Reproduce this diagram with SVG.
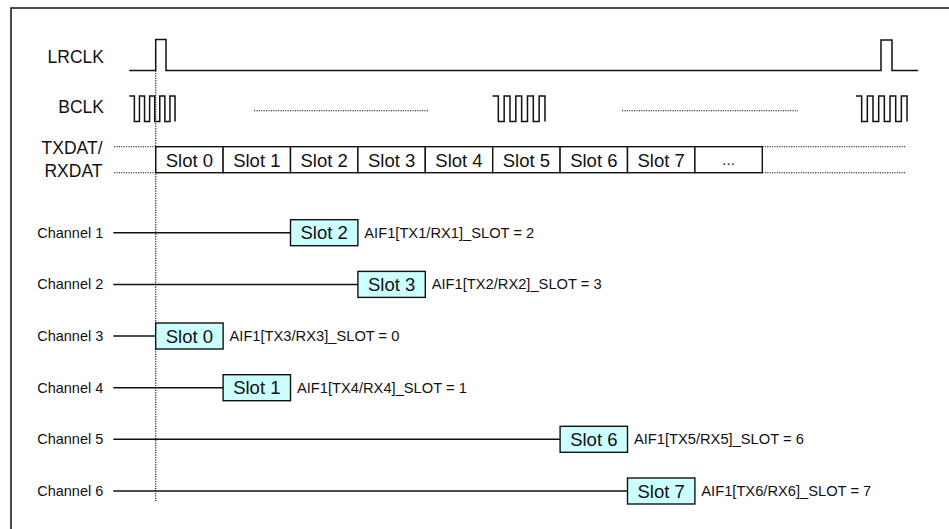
<svg xmlns="http://www.w3.org/2000/svg" width="949" height="529" viewBox="0 0 949 529">
<style>
.ln{fill:none;stroke:#111;stroke-width:1.5}
.dot{fill:none;stroke:#111;stroke-width:1.1;stroke-dasharray:1.2 1.2}
.sig{font-family:"Liberation Sans",Arial,sans-serif;font-size:17.5px;fill:#111;text-anchor:end}
.ch{font-family:"Liberation Sans",Arial,sans-serif;font-size:14.5px;fill:#111;text-anchor:end}
.cell{fill:#fff;stroke:#111;stroke-width:1.4}
.box{fill:#ccffff;stroke:#111;stroke-width:1.4}
.st{font-family:"Liberation Sans",Arial,sans-serif;font-size:18.5px;fill:#111;text-anchor:middle}
.pm{font-family:"Liberation Sans",Arial,sans-serif;font-size:14.7px;fill:#111}
</style>
<rect width="949" height="529" fill="#fff"/>
<rect x="11" y="8" width="1000" height="600" class="ln"/>

<g id="lrclk">
<text class="sig" x="104" y="62.7">LRCLK</text>
<path class="ln" d="M129.3 70.5 H155.7 V39.5 H166 V70.5 H881 V40 H892 V70.5 H918"/>
</g>

<g id="bclk">
<text class="sig" x="104" y="113.3">BCLK</text>
<path class="ln" d="M129.3 96 h5.08 V121.5 h5.08 V96 h5.08 V121.5 h5.08 V96 h5.08 V121.5 h5.08 V96 h5.08 V121.5 h5.08 V96 h5.08 V121.5"/>
<path class="ln" d="M492.5 96 h5.83 V121.5 h5.83 V96 h5.83 V121.5 h5.83 V96 h5.83 V121.5 h5.83 V96 h5.83 V121.5 h5.83 V96 h5.83 V121.5"/>
<path class="ln" d="M856 96 h5.67 V121.5 h5.67 V96 h5.67 V121.5 h5.67 V96 h5.67 V121.5 h5.67 V96 h5.67 V121.5 h5.67 V96 h5.67 V121.5"/>
<path class="dot" d="M254 110.7 H429 M622 110.7 H798"/>
</g>

<g id="txdat">
<text class="sig" x="102.5" y="154">TXDAT/</text>
<text class="sig" x="102.5" y="176.7">RXDAT</text>
<path class="dot" d="M114 146.7 H155.7 M762.3 146.7 H906 M114 172.7 H155.7 M762.3 172.7 H906"/>
<g id="slot-row">
<rect class="cell" x="155.7" y="146.7" width="67.4" height="26"/><text class="st" x="189.4" y="166.5">Slot 0</text>
<rect class="cell" x="223.1" y="146.7" width="67.4" height="26"/><text class="st" x="256.8" y="166.5">Slot 1</text>
<rect class="cell" x="290.5" y="146.7" width="67.4" height="26"/><text class="st" x="324.2" y="166.5">Slot 2</text>
<rect class="cell" x="357.9" y="146.7" width="67.4" height="26"/><text class="st" x="391.6" y="166.5">Slot 3</text>
<rect class="cell" x="425.3" y="146.7" width="67.4" height="26"/><text class="st" x="459" y="166.5">Slot 4</text>
<rect class="cell" x="492.7" y="146.7" width="67.4" height="26"/><text class="st" x="526.4" y="166.5">Slot 5</text>
<rect class="cell" x="560.1" y="146.7" width="67.4" height="26"/><text class="st" x="593.8" y="166.5">Slot 6</text>
<rect class="cell" x="627.5" y="146.7" width="67.4" height="26"/><text class="st" x="661.2" y="166.5">Slot 7</text>
<rect class="cell" x="694.9" y="146.7" width="67.4" height="26"/><text class="st" x="728.6" y="165" style="font-size:15px">...</text>
</g>
</g>

<path class="dot" d="M155.7 70.5 V501.5"/>

<g id="connectors">
<path class="ln" d="M113.3 232.7 H290.5"/>
<path class="ln" d="M113.3 284.4 H357.9"/>
<path class="ln" d="M113.3 336 H155.7"/>
<path class="ln" d="M113.3 387.7 H223.1"/>
<path class="ln" d="M113.3 439.3 H560.1"/>
<path class="ln" d="M113.3 491 H627.5"/>
</g>

<g id="channel1">
<text class="ch" x="103.3" y="237.7">Channel 1</text>
<rect class="box" x="290.5" y="219.7" width="67.4" height="26"/>
<text class="st" x="324.2" y="239.2">Slot 2</text>
<text class="pm" x="364.3" y="237.7">AIF1[TX1/RX1]_SLOT = 2</text>
</g>
<g id="channel2">
<text class="ch" x="103.3" y="289.4">Channel 2</text>
<rect class="box" x="357.9" y="271.4" width="67.4" height="26"/>
<text class="st" x="391.6" y="290.9">Slot 3</text>
<text class="pm" x="431.7" y="289.4">AIF1[TX2/RX2]_SLOT = 3</text>
</g>
<g id="channel3">
<text class="ch" x="103.3" y="341">Channel 3</text>
<rect class="box" x="155.7" y="323" width="67.4" height="26"/>
<text class="st" x="189.4" y="342.5">Slot 0</text>
<text class="pm" x="229.5" y="341">AIF1[TX3/RX3]_SLOT = 0</text>
</g>
<g id="channel4">
<text class="ch" x="103.3" y="392.7">Channel 4</text>
<rect class="box" x="223.1" y="374.7" width="67.4" height="26"/>
<text class="st" x="256.8" y="394.2">Slot 1</text>
<text class="pm" x="296.9" y="392.7">AIF1[TX4/RX4]_SLOT = 1</text>
</g>
<g id="channel5">
<text class="ch" x="103.3" y="444.3">Channel 5</text>
<rect class="box" x="560.1" y="426.3" width="67.4" height="26"/>
<text class="st" x="593.8" y="445.8">Slot 6</text>
<text class="pm" x="633.9" y="444.3">AIF1[TX5/RX5]_SLOT = 6</text>
</g>
<g id="channel6">
<text class="ch" x="103.3" y="496">Channel 6</text>
<rect class="box" x="627.5" y="478" width="67.4" height="26"/>
<text class="st" x="661.2" y="497.5">Slot 7</text>
<text class="pm" x="701.3" y="496">AIF1[TX6/RX6]_SLOT = 7</text>
</g>
</svg>
